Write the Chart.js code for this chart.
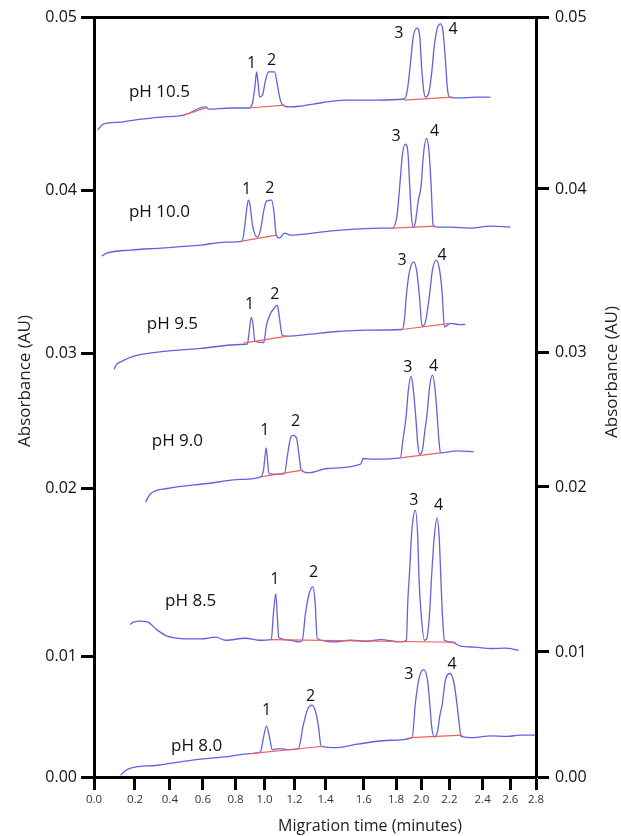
<!DOCTYPE html>
<html>
<head>
<meta charset="utf-8">
<script src="https://cdn.jsdelivr.net/npm/chart.js@4.4.1/dist/chart.umd.min.js"></script>
<style>
  html, body { margin: 0; padding: 0; background: #ffffff; }
  #wrap { width: 621px; height: 836px; }
</style>
</head>
<body>
<div id="wrap"><canvas id="c" width="621" height="836"></canvas></div>
<script>
// ---------------- DATA (migration time in minutes, absorbance in AU) ----------------
const ph105Time = [0.018,0.047,0.130,0.233,0.347,0.483,0.617,0.635,0.769,0.890,0.917,0.935,0.945,0.955,0.966,0.986,1.007,1.027,1.067,1.087,1.107,1.133,1.173,1.239,1.368,1.504,1.672,1.866,1.890,1.914,1.938,1.968,1.990,2.002,2.016,2.030,2.052,2.073,2.094,2.115,2.137,2.154,2.172,2.186,2.200,2.266,2.356,2.456];
const ph105Abs  = [0.04348,0.04383,0.04394,0.04411,0.04423,0.04434,0.04481,0.04469,0.04475,0.04475,0.04504,0.04608,0.04683,0.04625,0.04538,0.04550,0.04636,0.04683,0.04683,0.04602,0.04515,0.04486,0.04481,0.04486,0.04504,0.04521,0.04521,0.04527,0.04579,0.04729,0.04890,0.04936,0.04879,0.04729,0.04590,0.04538,0.04556,0.04665,0.04838,0.04936,0.04960,0.04925,0.04752,0.04590,0.04538,0.04533,0.04538,0.04538];

const ph100Time = [0.038,0.062,0.179,0.347,0.586,0.739,0.845,0.862,0.876,0.888,0.900,0.917,0.950,0.972,0.993,1.013,1.047,1.063,1.078,1.100,1.133,1.173,1.368,1.478,1.703,1.777,1.808,1.829,1.850,1.874,1.894,1.909,1.922,1.936,1.954,1.978,2.000,2.016,2.038,2.055,2.071,2.085,2.108,2.206,2.326,2.456,2.600];
const ph100Abs  = [0.03597,0.03615,0.03634,0.03646,0.03664,0.03683,0.03689,0.03769,0.03879,0.03940,0.03910,0.03787,0.03713,0.03756,0.03867,0.03934,0.03940,0.03867,0.03726,0.03707,0.03738,0.03726,0.03744,0.03756,0.03769,0.03769,0.03848,0.04025,0.04204,0.04267,0.04221,0.04025,0.03848,0.03771,0.03806,0.03940,0.04025,0.04204,0.04300,0.04233,0.04025,0.03787,0.03775,0.03775,0.03769,0.03781,0.03775];

const ph95Time = [0.098,0.111,0.130,0.195,0.385,0.586,0.835,0.881,0.893,0.908,0.921,0.933,0.959,0.995,1.013,1.040,1.060,1.085,1.097,1.118,1.151,1.303,1.443,1.621,1.848,1.866,1.882,1.906,1.941,1.966,1.986,2.007,2.030,2.061,2.080,2.108,2.133,2.149,2.165,2.206,2.266,2.296];
const ph95Abs  = [0.02881,0.02921,0.02938,0.02980,0.03014,0.03031,0.03055,0.03057,0.03125,0.03221,0.03174,0.03077,0.03069,0.03067,0.03174,0.03245,0.03272,0.03296,0.03235,0.03112,0.03106,0.03118,0.03133,0.03143,0.03147,0.03204,0.03355,0.03499,0.03562,0.03499,0.03355,0.03167,0.03192,0.03370,0.03511,0.03572,0.03499,0.03370,0.03163,0.03184,0.03177,0.03178];

const ph90Time = [0.261,0.290,0.385,0.627,0.835,0.972,0.993,1.011,1.020,1.029,1.085,1.133,1.153,1.173,1.191,1.213,1.229,1.243,1.292,1.409,1.583,1.597,1.662,1.834,1.854,1.880,1.898,1.920,1.938,1.957,1.974,1.989,2.009,2.027,2.042,2.059,2.080,2.098,2.113,2.126,2.137,2.246,2.346];
const ph90Abs  = [0.01920,0.01970,0.02000,0.02037,0.02067,0.02086,0.02136,0.02301,0.02210,0.02111,0.02106,0.02111,0.02247,0.02373,0.02393,0.02373,0.02247,0.02136,0.02116,0.02148,0.02180,0.02222,0.02217,0.02227,0.02358,0.02532,0.02728,0.02832,0.02728,0.02532,0.02321,0.02254,0.02284,0.02432,0.02550,0.02743,0.02839,0.02743,0.02550,0.02358,0.02264,0.02279,0.02271];

const ph85Time = [0.176,0.195,0.233,0.271,0.328,0.385,0.465,0.586,0.678,0.739,0.869,0.959,1.045,1.058,1.075,1.085,1.095,1.173,1.228,1.250,1.271,1.297,1.318,1.332,1.347,1.443,1.531,1.621,1.703,1.834,1.882,1.894,1.906,1.926,1.954,1.974,1.982,1.998,2.023,2.038,2.059,2.073,2.091,2.113,2.129,2.140,2.151,2.165,2.218,2.266,2.356,2.456,2.564,2.665];
const ph85Abs  = [0.01192,0.01208,0.01212,0.01208,0.01159,0.01123,0.01109,0.01107,0.01117,0.01099,0.01111,0.01099,0.01103,0.01242,0.01376,0.01242,0.01115,0.01099,0.01089,0.01099,0.01260,0.01384,0.01416,0.01337,0.01109,0.01089,0.01099,0.01093,0.01103,0.01089,0.01099,0.01337,0.01485,0.01752,0.01871,0.01693,0.01485,0.01277,0.01099,0.01105,0.01248,0.01461,0.01693,0.01825,0.01693,0.01461,0.01248,0.01099,0.01087,0.01064,0.01058,0.01050,0.01052,0.01040];

const ph80Time = [0.130,0.150,0.179,0.328,0.526,0.728,0.904,0.972,0.991,1.013,1.035,1.051,1.095,1.173,1.226,1.254,1.282,1.312,1.337,1.355,1.372,1.461,1.566,1.765,1.928,1.954,1.986,2.018,2.045,2.061,2.076,2.094,2.115,2.133,2.149,2.172,2.202,2.227,2.246,2.260,2.270,2.346,2.456,2.576,2.678,2.795];
const ph80Abs  = [0.00014,0.00048,0.00073,0.00098,0.00139,0.00167,0.00195,0.00208,0.00318,0.00423,0.00318,0.00228,0.00237,0.00228,0.00237,0.00418,0.00556,0.00598,0.00539,0.00418,0.00256,0.00245,0.00273,0.00306,0.00328,0.00614,0.00831,0.00895,0.00806,0.00614,0.00406,0.00333,0.00373,0.00514,0.00602,0.00806,0.00862,0.00789,0.00602,0.00431,0.00339,0.00328,0.00343,0.00339,0.00348,0.00348];

// integration baselines: [t1, a1, t2, a2]
const ph105Base = [[0.483,0.04434,0.617,0.04475],[0.890,0.04475,1.133,0.04492],[1.866,0.04521,2.218,0.04538]];
const ph100Base = [[0.845,0.03689,1.080,0.03726],[1.777,0.03769,2.101,0.03781]];
const ph95Base  = [[0.855,0.03063,1.153,0.03106],[1.848,0.03147,2.206,0.03184]];
const ph90Base  = [[0.972,0.02086,1.252,0.02136],[1.834,0.02227,2.137,0.02264]];
const ph85Base  = [[1.040,0.01103,2.236,0.01087]];
const ph80Base  = [[0.904,0.00195,1.387,0.00256],[1.914,0.00328,2.279,0.00348]];

// text annotations (anchored in data units)
const phNames   = ['pH 10.5','pH 10.0','pH 9.5','pH 9.0','pH 8.5','pH 8.0'];
const phNameT   = [0.340,0.340,0.415,0.445,0.526,0.562];
const phNameA   = [0.04569,0.03865,0.03180,0.02353,0.01333,0.00256];
const peakNames = ['1','2','3','4'];
const ph105PeakT = [0.910,1.047,1.821,2.222], ph105PeakA = [0.04735,0.04752,0.04908,0.04931];
const ph100PeakT = [0.876,1.035,1.800,2.096], ph100PeakA = [0.04006,0.04012,0.04313,0.04338];
const ph95PeakT  = [0.897,1.069,1.848,2.149], ph95PeakA  = [0.03301,0.03364,0.03572,0.03603];
const ph90PeakT  = [1.002,1.207,1.893,2.089], ph90PeakA  = [0.02432,0.02499,0.02896,0.02906];
const ph85PeakT  = [1.069,1.323,1.941,2.124], ph85PeakA  = [0.01461,0.01499,0.01931,0.01901];
const ph80PeakT  = [1.013,1.303,1.901,2.216], ph80PeakA  = [0.00556,0.00673,0.00856,0.00939];

// axis tick values
const xTickVals = [0,0.2,0.4,0.6,0.8,1.0,1.2,1.4,1.6,1.8,2.0,2.2,2.4,2.6,2.8];
const yTickVals = [0,0.01,0.02,0.03,0.04,0.05];

// ---------------- SCALE GEOMETRY (the printed axes are not evenly spaced) ----------------
const warpFracs = {
  x:  [0,0.0927,0.1718,0.2464,0.3203,0.3858,0.4537,0.5237,0.6103,0.6835,0.7401,0.8040,0.8793,0.9419,1],
  y:  [0,0.1580,0.3796,0.5573,0.7719,1],
  y2: [0,0.1645,0.3816,0.5592,0.7737,1]
};
const warpVals = { x: xTickVals, y: yTickVals, y2: yTickVals };

function interp(v, a, b) {
  const n = a.length - 1;
  let i = 1;
  while (i < n && v > a[i]) i++;
  return b[i-1] + (v - a[i-1]) * (b[i] - b[i-1]) / (a[i] - a[i-1]);
}

class WarpScale extends Chart.LinearScale {
  getPixelForValue(value) {
    if (value === null || value === undefined || isNaN(value)) return NaN;
    return this.getPixelForDecimal(interp(value, warpVals[this.id], warpFracs[this.id]));
  }
  getValueForPixel(pixel) {
    return interp(this.getDecimalForPixel(pixel), warpFracs[this.id], warpVals[this.id]);
  }
}
WarpScale.id = 'warp';
WarpScale.defaults = Chart.LinearScale.defaults;
Chart.register(WarpScale);

// ---------------- BUILD DATASETS ----------------
const traces = [
  {t: ph105Time, a: ph105Abs, base: ph105Base, pt: ph105PeakT, pa: ph105PeakA},
  {t: ph100Time, a: ph100Abs, base: ph100Base, pt: ph100PeakT, pa: ph100PeakA},
  {t: ph95Time,  a: ph95Abs,  base: ph95Base,  pt: ph95PeakT,  pa: ph95PeakA},
  {t: ph90Time,  a: ph90Abs,  base: ph90Base,  pt: ph90PeakT,  pa: ph90PeakA},
  {t: ph85Time,  a: ph85Abs,  base: ph85Base,  pt: ph85PeakT,  pa: ph85PeakA},
  {t: ph80Time,  a: ph80Abs,  base: ph80Base,  pt: ph80PeakT,  pa: ph80PeakA}
];
const TRACE_COLOR = 'rgb(98,98,222)';
const BASE_COLOR = 'rgb(236,96,96)';

const datasets = [];
traces.forEach(tr => {
  datasets.push({
    data: tr.t.map((v, i) => ({x: v, y: tr.a[i]})),
    showLine: true, borderColor: TRACE_COLOR, borderWidth: 1.3,
    pointRadius: 0, cubicInterpolationMode: 'monotone', order: 1
  });
  tr.base.forEach(s => {
    datasets.push({
      data: [{x: s[0], y: s[1]}, {x: s[2], y: s[3]}],
      showLine: true, borderColor: BASE_COLOR, borderWidth: 1.2,
      pointRadius: 0, order: 0
    });
  });
});

const FONT = '"Open Sans", "DejaVu Sans", sans-serif';

const textPlugin = {
  id: 'texts',
  afterDatasetsDraw(chart) {
    const {ctx} = chart;
    const xs = chart.scales.x, ys = chart.scales.y;
    ctx.save();
    ctx.fillStyle = '#111';
    ctx.textAlign = 'center';
    ctx.textBaseline = 'middle';
    ctx.font = '17px ' + FONT;
    phNames.forEach((t, i) => ctx.fillText(t, xs.getPixelForValue(phNameT[i]), ys.getPixelForValue(phNameA[i])));
    ctx.font = '16px ' + FONT;
    traces.forEach(tr => {
      peakNames.forEach((n, i) => ctx.fillText(n, xs.getPixelForValue(tr.pt[i]), ys.getPixelForValue(tr.pa[i])));
    });
    ctx.restore();
  },
  afterDraw(chart) {
    const {ctx} = chart;
    ctx.save();
    ctx.fillStyle = '#222';
    ctx.textAlign = 'center';
    ctx.textBaseline = 'middle';
    ctx.font = '16px ' + FONT;
    ctx.fillText('Migration time (minutes)', 370, 826);
    ctx.font = '17px ' + FONT;
    ctx.translate(25, 381);
    ctx.rotate(-Math.PI / 2);
    ctx.fillText('Absorbance (AU)', 0, 0);
    ctx.restore();
    ctx.save();
    ctx.fillStyle = '#222';
    ctx.textAlign = 'center';
    ctx.textBaseline = 'middle';
    ctx.font = '17px ' + FONT;
    ctx.translate(612, 372);
    ctx.rotate(-Math.PI / 2);
    ctx.fillText('Absorbance (AU)', 0, 0);
    ctx.restore();
  }
};

const axisGrid = {drawOnChartArea: false, drawTicks: true, tickLength: 13, tickWidth: 3, tickColor: '#000'};
const axisBorder = {display: true, width: 3, color: '#000'};

new Chart(document.getElementById('c'), {
  type: 'scatter',
  data: {datasets},
  options: {
    responsive: false,
    devicePixelRatio: 1,
    animation: false,
    layout: {padding: 0},
    plugins: {legend: {display: false}, tooltip: {enabled: false}},
    scales: {
      x: {
        type: 'warp', position: 'bottom', min: 0, max: 2.8,
        afterBuildTicks: s => { s.ticks = xTickVals.map(v => ({value: v})); },
        ticks: {autoSkip: false, maxRotation: 0, color: '#333', padding: 3,
                font: {family: FONT, size: 11.5}, callback: v => Number(v).toFixed(1)},
        grid: axisGrid, border: axisBorder,
        afterFit: s => { s.height = 59; }
      },
      xTop: {
        type: 'linear', position: 'top', min: 0, max: 2.8,
        ticks: {display: false}, grid: {display: false, drawTicks: false},
        border: axisBorder,
        afterFit: s => { s.height = 17; }
      },
      y: {
        type: 'warp', position: 'left', min: 0, max: 0.05,
        afterBuildTicks: s => { s.ticks = yTickVals.map(v => ({value: v})); },
        ticks: {color: '#111', padding: 4, font: {family: FONT, size: 16},
                callback: v => Number(v).toFixed(2)},
        grid: axisGrid, border: axisBorder,
        afterFit: s => { s.width = 94; }
      },
      y2: {
        type: 'warp', position: 'right', min: 0, max: 0.05,
        afterBuildTicks: s => { s.ticks = yTickVals.map(v => ({value: v})); },
        ticks: {color: '#111', padding: 6, font: {family: FONT, size: 16},
                callback: v => Number(v).toFixed(2)},
        grid: axisGrid, border: axisBorder,
        afterFit: s => { s.width = 85; }
      }
    }
  },
  plugins: [textPlugin]
});
</script>
</body>
</html>
